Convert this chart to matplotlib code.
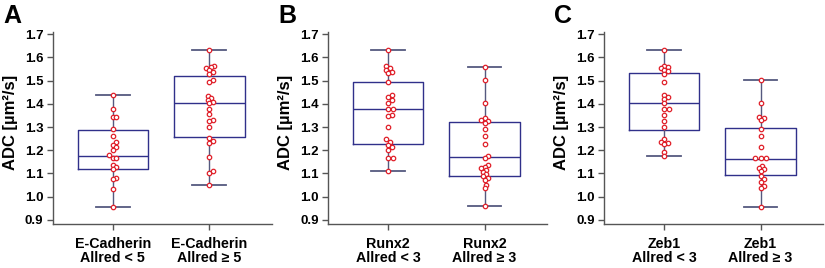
import matplotlib
matplotlib.use("Agg")
import matplotlib.pyplot as plt
import numpy as np

plt.rcParams['font.family'] = ['Liberation Sans', 'DejaVu Sans']
plt.rcParams['font.weight'] = 'bold'

# ---------------- data ----------------
panel_letters = ["A", "B", "C"]
group_labels = [
    ["E-Cadherin\nAllred < 5", "E-Cadherin\nAllred \u2265 5"],
    ["Runx2\nAllred < 3", "Runx2\nAllred \u2265 3"],
    ["Zeb1\nAllred < 3", "Zeb1\nAllred \u2265 3"],
]
y_label = "ADC [\u00b5m\u00b2/s]"
y_ticks = [0.9, 1.0, 1.1, 1.2, 1.3, 1.4, 1.5, 1.6, 1.7]

ecad_low = [1.438, 1.377, 1.342, 1.345, 1.292, 1.263, 1.235, 1.224, 1.212, 1.200,
            1.178, 1.168, 1.168, 1.137, 1.128, 1.120, 1.082, 1.075, 1.033, 0.957]
ecad_high = [1.630, 1.563, 1.560, 1.553, 1.546, 1.539, 1.530, 1.503, 1.496,
             1.434, 1.424, 1.417, 1.410, 1.403, 1.377, 1.356, 1.330, 1.325, 1.299,
             1.252, 1.240, 1.230, 1.170, 1.112, 1.101, 1.050]
runx2_low = [1.630, 1.563, 1.553, 1.546, 1.539, 1.532, 1.496, 1.438, 1.431, 1.417,
             1.405, 1.377, 1.377, 1.352, 1.348, 1.299, 1.247, 1.237, 1.223, 1.213,
             1.201, 1.166, 1.166, 1.112]
runx2_high = [1.558, 1.503, 1.403, 1.338, 1.331, 1.326, 1.319, 1.292, 1.263, 1.227,
              1.177, 1.166, 1.137, 1.130, 1.122, 1.115, 1.108, 1.097, 1.087, 1.079,
              1.073, 1.050, 1.036, 0.960]
zeb1_low = [1.630, 1.562, 1.558, 1.553, 1.546, 1.540, 1.530, 1.496, 1.437, 1.430,
            1.420, 1.405, 1.377, 1.377, 1.352, 1.328, 1.300, 1.250, 1.237, 1.230,
            1.226, 1.194, 1.176]
zeb1_high = [1.503, 1.405, 1.345, 1.341, 1.331, 1.291, 1.263, 1.212, 1.165, 1.165,
             1.165, 1.134, 1.125, 1.118, 1.112, 1.087, 1.075, 1.065, 1.048, 1.036,
             0.957]

# box statistics: whislo, q1, median, q3, whishi
ecad_low_box = [0.957, 1.118, 1.176, 1.287, 1.438]
ecad_high_box = [1.050, 1.259, 1.403, 1.522, 1.630]
runx2_low_box = [1.112, 1.227, 1.377, 1.493, 1.630]
runx2_high_box = [0.960, 1.091, 1.170, 1.323, 1.558]
zeb1_low_box = [1.176, 1.288, 1.403, 1.532, 1.630]
zeb1_high_box = [0.957, 1.094, 1.164, 1.298, 1.503]

panels_data = [(ecad_low, ecad_high), (runx2_low, runx2_high), (zeb1_low, zeb1_high)]
panels_box = [(ecad_low_box, ecad_high_box), (runx2_low_box, runx2_high_box),
              (zeb1_low_box, zeb1_high_box)]

# ---------------- style ----------------
W, H = 825, 268
fig = plt.figure(figsize=(W / 100, H / 100), dpi=100)

box_col = "#30308a"
whisk_col = "#55597f"
spine_col = "#555555"
pt_col = "#e0202a"

axes_left_px = [53, 328.3, 604.3]
ax_w = 219 / W
ax_b = 1 - 224.3 / H
ax_h = (224.3 - 31.7) / H
letter_x_px = [3, 278, 554]


def swarm_offsets(ax, x0, vals, diam_px):
    """Simple beeswarm: place each point at the smallest free offset."""
    order = np.argsort(vals)
    placed = []
    xs = np.zeros(len(vals))
    base = ax.transData.transform((x0, 0))[0]
    cands = [0.0]
    for k in range(1, 12):
        cands += [k * diam_px * 0.5, -k * diam_px * 0.5]
    for i in order:
        ypx = ax.transData.transform((x0, vals[i]))[1]
        chosen = cands[-1]
        for c in cands:
            ok = True
            for (px, py) in placed:
                if (base + c - px) ** 2 + (ypx - py) ** 2 < diam_px ** 2:
                    ok = False
                    break
            if ok:
                chosen = c
                break
        placed.append((base + chosen, ypx))
        xs[i] = ax.transData.inverted().transform((base + chosen, ypx))[0]
    return xs


for p in range(3):
    ax = fig.add_axes([axes_left_px[p] / W, ax_b, ax_w, ax_h])
    ax.set_xlim(-0.62, 1.65)
    ax.set_ylim(0.881, 1.711)

    stats = []
    for b in panels_box[p]:
        stats.append(dict(whislo=b[0], q1=b[1], med=b[2], q3=b[3], whishi=b[4], fliers=[]))
    ax.bxp(stats, positions=[0, 1], widths=0.73, capwidths=0.35, showfliers=False,
           boxprops=dict(color=box_col, linewidth=1.0),
           medianprops=dict(color=box_col, linewidth=1.0),
           whiskerprops=dict(color=whisk_col, linewidth=1.0),
           capprops=dict(color=whisk_col, linewidth=1.3),
           manage_ticks=False)

    for gi, vals in enumerate(panels_data[p]):
        vals = np.asarray(vals)
        xs = swarm_offsets(ax, gi, vals, 3.4)
        ax.plot(xs, vals, 'o', ls='none', markersize=3.2, markerfacecolor='white',
                markeredgecolor=pt_col, markeredgewidth=0.9, zorder=4)

    ax.set_xticks([0, 1])
    ax.set_xticklabels(group_labels[p], fontsize=10.3, fontweight='bold', linespacing=1.05)
    ax.set_yticks(y_ticks)
    ax.set_yticklabels([f"{v:.1f}" for v in y_ticks], fontsize=9.5, fontweight='bold')
    ax.tick_params(axis='both', direction='out', length=4, width=1, color=spine_col)
    ax.tick_params(axis='x', pad=5)
    ax.tick_params(axis='y', pad=3)
    for s in ['top', 'right']:
        ax.spines[s].set_visible(False)
    for s in ['left', 'bottom']:
        ax.spines[s].set_color(spine_col)
        ax.spines[s].set_linewidth(1.0)
    ax.set_ylabel(y_label, fontsize=12, fontweight='bold')
    ax.yaxis.set_label_coords(-0.16, 0.53)

    fig.text(letter_x_px[p] / W, 1 - 23 / H, panel_letters[p], fontsize=18,
             fontweight='bold', ha='left', va='baseline')

fig.savefig("out.png", dpi=100)
